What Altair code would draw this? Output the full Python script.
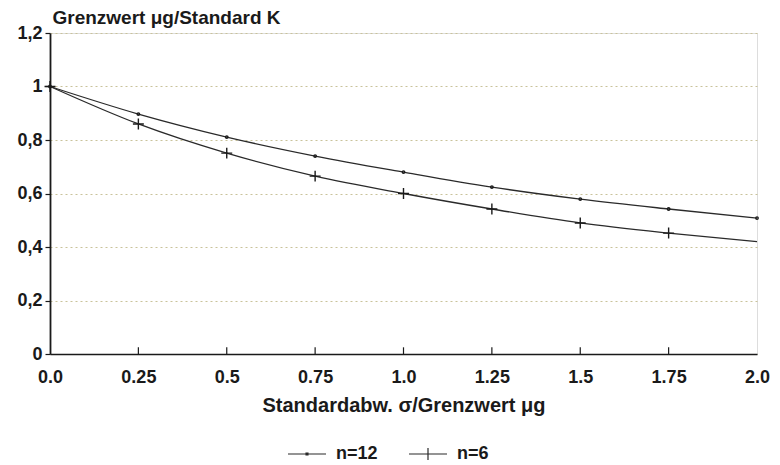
import altair as alt
import pandas as pd

# ---- data ----
x_vals = [0.0, 0.25, 0.5, 0.75, 1.0, 1.25, 1.5, 1.75, 2.0]
n12_vals = [1.0, 0.897, 0.811, 0.740, 0.680, 0.624, 0.579, 0.542, 0.508]
n6_vals = [1.0, 0.860, 0.751, 0.665, 0.600, 0.542, 0.490, 0.452, 0.420]
series_names = ["n=12", "n=6"]
y_ticks = [0, 0.2, 0.4, 0.6, 0.8, 1.0, 1.2]
x_ticks = x_vals
inner_x_ticks = [0.25, 0.5, 0.75, 1.0, 1.25, 1.5, 1.75]

df = pd.DataFrame({
    "x": x_vals + x_vals,
    "y": n12_vals + n6_vals,
    "series": [series_names[0]] * len(x_vals) + [series_names[1]] * len(x_vals),
})
ticks_df = pd.DataFrame({"x": inner_x_ticks})

FONT = "Liberation Sans"
INK = "#1a1a1a"

xscale = alt.Scale(domain=[0, 2], nice=False, zero=False)
yscale = alt.Scale(domain=[0, 1.2], nice=False)

x_axis = alt.Axis(
    values=x_ticks,
    labelExpr="datum.value == 0 ? '0.0' : datum.value == 1 ? '1.0' : datum.value == 2 ? '2.0' : format(datum.value, '')",
    ticks=False, grid=False,
    domainColor=INK, domainWidth=1.5,
    labelFont=FONT, labelFontSize=18, labelFontWeight="bold", labelColor=INK,
    labelPadding=14, labelFlush=False,
    title="Standardabw. σ/Grenzwert μg",
    titleFont=FONT, titleFontSize=20, titleFontWeight="bold", titleColor=INK,
    titlePadding=9,
)
y_axis = alt.Axis(
    values=y_ticks,
    labelExpr="abs(datum.value) < 1e-9 ? '0' : abs(datum.value - 1) < 1e-9 ? '1' : replace(format(datum.value, '.1f'), '.', ',')",
    grid=True, gridColor="#c9c29a", gridDash=[2, 3], gridWidth=1,
    tickSize=5, tickColor=INK, tickWidth=1.2,
    domainColor=INK, domainWidth=1.8,
    labelFont=FONT, labelFontSize=18, labelFontWeight="bold", labelColor=INK,
    labelPadding=3,
    title="Grenzwert μg/Standard K",
    titleFont=FONT, titleFontSize=19, titleFontWeight="bold", titleColor=INK,
    titleAngle=0, titleAlign="left", titleBaseline="alphabetic",
    titleX=2, titleY=-10,
)

base = alt.Chart(df)

lines = base.mark_line(interpolate="monotone", strokeWidth=1.3, color="#2a2a2a").encode(
    x=alt.X("x:Q", scale=xscale, axis=x_axis),
    y=alt.Y("y:Q", scale=yscale, axis=y_axis),
    detail="series:N",
)

points = base.transform_filter(
    "!(datum.series == 'n=6' && datum.x == 2)"
).mark_point(filled=False, strokeWidth=1.4, opacity=1).encode(
    x=alt.X("x:Q", scale=xscale),
    y=alt.Y("y:Q", scale=yscale),
    shape=alt.Shape("series:N", scale=alt.Scale(domain=series_names, range=["circle", "M-1,0H1M0,-1V1"]), legend=None),
    size=alt.Size("series:N", scale=alt.Scale(domain=series_names, range=[6, 120]), legend=None),
    color=alt.value("#1a1a1a"),
)

legend = alt.Legend(
    title=None, orient="none", legendX=237, legendY=401, direction="horizontal",
    labelFont=FONT, labelFontSize=18, labelFontWeight="bold", labelColor=INK,
    labelOffset=9, columnPadding=28, padding=0,
    symbolSize=1444, symbolOpacity=1, symbolFillColor="black",
    symbolStrokeColor="#2a2a2a", symbolStrokeWidth=1.2,
)

legend_layer = base.mark_point(filled=False, opacity=0).encode(
    x=alt.X("x:Q", scale=xscale),
    y=alt.Y("y:Q", scale=yscale),
    shape=alt.Shape("series:N", scale=alt.Scale(
        domain=series_names,
        range=["M-1,0H1M-0.05,-0.05H0.05V0.05H-0.05Z", "M-1,0H1M0,-0.32V0.32"]), legend=legend),
)

inner_ticks = alt.Chart(ticks_df).mark_rule(color=INK, strokeWidth=1.2).encode(
    x=alt.X("x:Q", scale=xscale),
    y=alt.datum(0),
    y2=alt.datum(0.025),
)

chart = alt.layer(lines, points, legend_layer, inner_ticks).resolve_scale(
    shape="independent", size="independent"
).properties(
    width=707,
    height=321,
    padding={"left": 42, "top": 25, "right": 15, "bottom": 111},
    autosize=alt.AutoSizeParams(type="none"),
).configure_view(stroke=INK, strokeWidth=1.3).configure(background="white")

chart.save("out.html", embed_options={"renderer": "svg", "actions": False})
